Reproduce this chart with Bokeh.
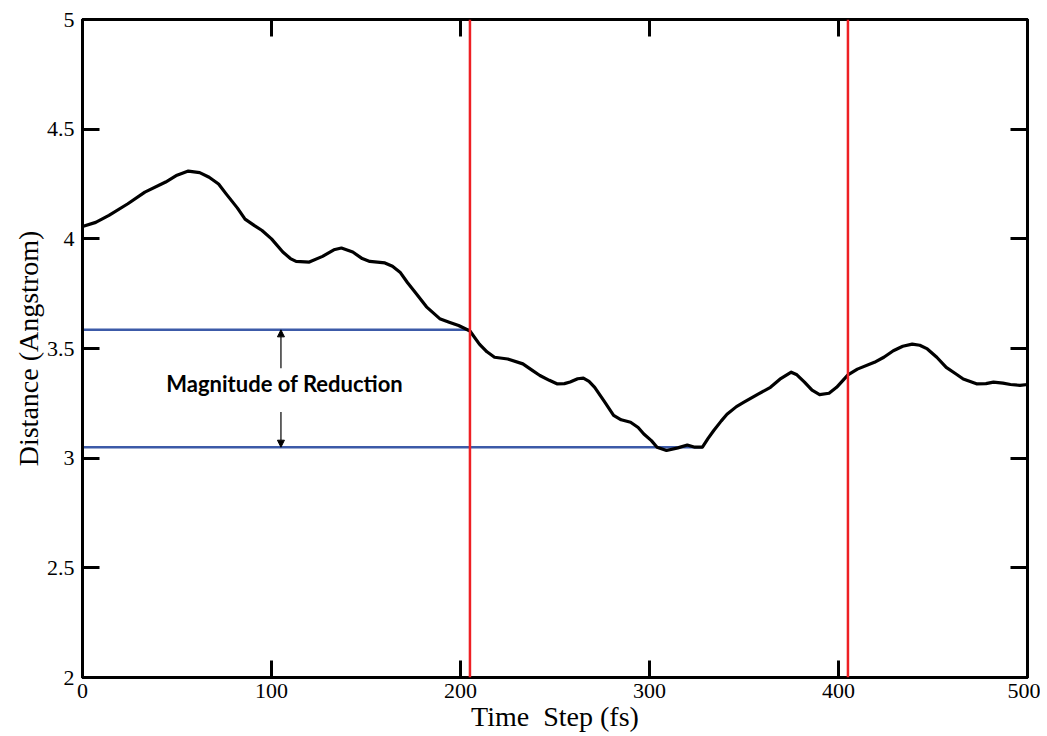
from bokeh.plotting import figure
from bokeh.models import (Range1d, FixedTicker, LinearAxis, Span, Arrow, NormalHead,
                          CustomJSTickFormatter, Label)
from bokeh.embed import file_html
from bokeh.resources import INLINE

# ---- data ----
time_fs = [0, 7, 14, 24, 33, 44, 50, 56, 62, 67, 72, 76, 82, 86, 91, 95, 100, 106, 110, 113,
           120, 127, 133, 137, 143, 148, 152, 160, 164, 168, 172, 176, 182, 189, 194, 199,
           205, 210, 214, 218, 225, 233, 238, 242, 247, 251, 255, 258, 262, 265, 268, 271,
           276, 281, 285, 290, 294, 297, 301, 304, 309, 315, 320, 324, 328, 331, 334, 338,
           341, 346, 350, 357, 364, 369, 375, 378, 382, 386, 390, 395, 399, 405, 410, 419,
           424, 429, 434, 439, 443, 447, 452, 457, 462, 466, 473, 478, 482, 487, 491, 496, 500]
distance = [4.056, 4.075, 4.107, 4.16, 4.213, 4.259, 4.29, 4.309, 4.302, 4.281, 4.25, 4.205,
            4.14, 4.09, 4.06, 4.038, 4.0, 3.94, 3.91, 3.897, 3.894, 3.92, 3.95, 3.958, 3.94,
            3.91, 3.897, 3.89, 3.875, 3.848, 3.80, 3.757, 3.69, 3.636, 3.62, 3.605, 3.58,
            3.52, 3.485, 3.46, 3.452, 3.43, 3.40, 3.377, 3.355, 3.339, 3.34, 3.347, 3.362,
            3.365, 3.35, 3.323, 3.26, 3.195, 3.175, 3.164, 3.14, 3.11, 3.08, 3.05, 3.035,
            3.047, 3.06, 3.05, 3.05, 3.09, 3.126, 3.17, 3.20, 3.235, 3.255, 3.29, 3.323,
            3.36, 3.392, 3.38, 3.347, 3.31, 3.29, 3.296, 3.323, 3.38, 3.406, 3.437, 3.46,
            3.49, 3.51, 3.52, 3.515, 3.498, 3.46, 3.414, 3.385, 3.361, 3.339, 3.34, 3.347,
            3.342, 3.336, 3.332, 3.336]

red_lines_x = [205, 405]
blue_levels = [3.585, 3.05]
blue_end_x = [205, 328]
arrow_x = 105
arrow_tail = [3.41, 3.21]
label_text = "Magnitude of Reduction"
label_pos = (107, 3.34)

x_ticks = [0, 100, 200, 300, 400, 500]
y_ticks = [2, 2.5, 3, 3.5, 4, 4.5, 5]

# ---- figure ----
p = figure(width=1040, height=735, output_backend="svg", toolbar_location=None,
           x_range=Range1d(0, 500), y_range=Range1d(2, 5),
           min_border_left=82, min_border_right=13, min_border_top=19, min_border_bottom=58)
p.grid.visible = False
p.outline_line_color = "black"
p.outline_line_width = 3

fmt = CustomJSTickFormatter(code="return tick.toString();")
blank = CustomJSTickFormatter(code="return '';")

def style_axis(ax, show_labels):
    ax.axis_line_width = 3
    ax.axis_line_color = "black"
    ax.major_tick_in = 17
    ax.major_tick_out = 0
    ax.major_tick_line_width = 3
    ax.minor_tick_line_color = None
    ax.major_label_text_font = "Liberation Serif"
    ax.major_label_text_font_size = "22px"
    ax.major_label_text_color = "black"
    ax.formatter = fmt if show_labels else blank

p.xaxis.ticker = FixedTicker(ticks=x_ticks)
p.yaxis.ticker = FixedTicker(ticks=y_ticks)
style_axis(p.xaxis[0], True)
style_axis(p.yaxis[0], True)
p.xaxis.major_label_standoff = 6
p.yaxis.major_label_standoff = 8
p.xaxis.axis_label = "Time\u00a0 Step (fs)"
p.yaxis.axis_label = "Distance (Angstrom)"
for ax in (p.xaxis[0], p.yaxis[0]):
    ax.axis_label_text_font = "Liberation Serif"
    ax.axis_label_text_font_size = "28px"
    ax.axis_label_text_font_style = "normal"
    ax.axis_label_text_color = "black"
    ax.axis_label_standoff = 0

top = LinearAxis(ticker=FixedTicker(ticks=x_ticks))
right = LinearAxis(ticker=FixedTicker(ticks=y_ticks))
style_axis(top, False)
style_axis(right, False)
top.major_label_standoff = 0
right.major_label_standoff = 0
p.add_layout(top, "above")
p.add_layout(right, "right")

# blue reference levels
for lvl, xe in zip(blue_levels, blue_end_x):
    p.line([0, xe], [lvl, lvl], line_color="#3c5aa8", line_width=2.5)

# red vertical markers
for xv in red_lines_x:
    p.add_layout(Span(location=xv, dimension="height", line_color="#ee2024", line_width=2.5))

# the distance curve
p.line(time_fs, distance, line_color="black", line_width=3.2, line_join="round")

# arrows
for tail, lvl in zip(arrow_tail, blue_levels):
    p.add_layout(Arrow(end=NormalHead(size=7, fill_color="black", line_color="black", line_width=1),
                       x_start=arrow_x, y_start=tail, x_end=arrow_x, y_end=lvl,
                       line_color="black", line_width=1.2))

p.add_layout(Label(x=label_pos[0], y=label_pos[1], text=label_text,
                   text_font="Lato", text_font_style="bold", text_font_size="22px",
                   text_align="center", text_baseline="middle", text_color="black"))

open("out.html", "w").write(file_html(p, INLINE))
